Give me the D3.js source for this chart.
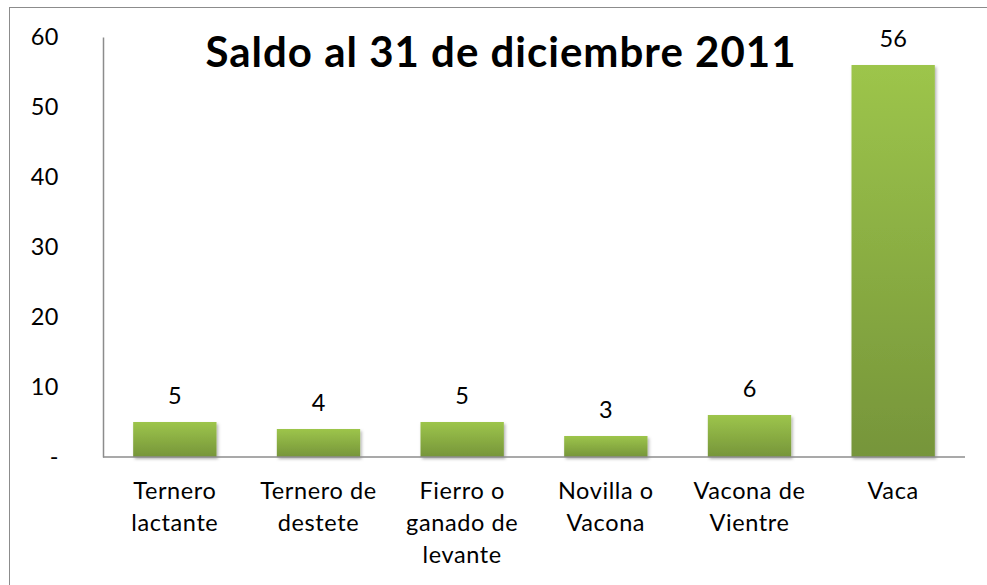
<!DOCTYPE html>
<html>
<head>
<meta charset="utf-8">
<script src="https://cdn.jsdelivr.net/npm/d3@7"></script>
<style>
  body { margin: 0; background: #fff; }
  svg { display: block; font-family: Lato, "Open Sans", sans-serif; }
</style>
</head>
<body>
<svg id="chart" width="987" height="585"></svg>
<script>
// datos del gráfico
const categorias = [
  ["Ternero", "lactante"],
  ["Ternero de", "destete"],
  ["Fierro o", "ganado de", "levante"],
  ["Novilla o", "Vacona"],
  ["Vacona de", "Vientre"],
  ["Vaca"]
];
const valores = [5, 4, 5, 3, 6, 56];
const ticksY = [0, 10, 20, 30, 40, 50, 60];
const titulo = "Saldo al 31 de diciembre 2011";

const svg = d3.select("#chart");

// marco exterior (solo se ven los bordes izquierdo y superior)
svg.append("rect")
  .attr("x", 9.5).attr("y", 7.5)
  .attr("width", 1000).attr("height", 600)
  .attr("fill", "#fff")
  .attr("stroke", "#8c8c8c")
  .attr("stroke-width", 1);

const defs = svg.append("defs");
const grad = defs.append("linearGradient")
  .attr("id", "verde")
  .attr("x1", 0).attr("y1", 0).attr("x2", 0).attr("y2", 1);
grad.append("stop").attr("offset", "0%").attr("stop-color", "#9dc54b");
grad.append("stop").attr("offset", "100%").attr("stop-color", "#76953a");

const sombra = defs.append("filter").attr("id", "sombra")
  .attr("x", "-10%").attr("y", "-10%").attr("width", "130%").attr("height", "130%");
sombra.append("feDropShadow")
  .attr("dx", 1.5).attr("dy", 2).attr("stdDeviation", 1.8)
  .attr("flood-color", "#000").attr("flood-opacity", 0.3);

const mIzq = 103, mDer = 965, mSup = 37, mInf = 457;
const tamTexto = 23.5;

const x = d3.scaleBand()
  .domain(d3.range(valores.length))
  .range([mIzq, mDer])
  .paddingInner(0.42)
  .paddingOuter(0.21);

const y = d3.scaleLinear()
  .domain([0, 60])
  .range([mInf, mSup]);

// barras
svg.append("g")
  .selectAll("rect")
  .data(valores)
  .join("rect")
  .attr("x", (d, i) => x(i))
  .attr("y", d => y(d))
  .attr("width", x.bandwidth())
  .attr("height", d => y(0) - y(d))
  .attr("fill", "url(#verde)")
  .attr("filter", "url(#sombra)");

// eje Y
const ejeY = d3.axisLeft(y)
  .tickValues(ticksY)
  .tickSize(0)
  .tickPadding(0)
  .tickFormat(d => d === 0 ? "-" : d);

const gY = svg.append("g")
  .attr("transform", `translate(${mIzq},0)`)
  .call(ejeY);
gY.select(".domain").attr("stroke", "#8c8c8c").attr("stroke-width", 1.5);
gY.selectAll("text")
  .attr("x", -44)
  .attr("font-size", tamTexto)
  .attr("letter-spacing", 0.5)
  .attr("fill", "#000")
  .attr("font-family", "Lato, sans-serif");

// eje X
svg.append("line")
  .attr("x1", mIzq).attr("x2", mDer)
  .attr("y1", mInf).attr("y2", mInf)
  .attr("stroke", "#8c8c8c")
  .attr("stroke-width", 1.5);

// etiquetas de categorías
const etiquetas = svg.append("g")
  .selectAll("text")
  .data(categorias)
  .join("text")
  .attr("text-anchor", "middle")
  .attr("font-size", tamTexto)
  .attr("letter-spacing", 0.6)
  .attr("fill", "#000")
  .attr("y", 499);
etiquetas.selectAll("tspan")
  .data((d, i) => d.map(l => ({ l, i })))
  .join("tspan")
  .attr("x", d => x(d.i) + x.bandwidth() / 2)
  .attr("dy", (d, j) => j === 0 ? 0 : 32)
  .text(d => d.l);

// valores
svg.append("g")
  .selectAll("text")
  .data(valores)
  .join("text")
  .attr("x", (d, i) => x(i) + x.bandwidth() / 2)
  .attr("y", d => y(d) - 18)
  .attr("text-anchor", "middle")
  .attr("font-size", tamTexto)
  .attr("fill", "#000")
  .text(d => d);

// título
svg.append("text")
  .attr("x", 501)
  .attr("y", 67)
  .attr("text-anchor", "middle")
  .attr("font-size", 42)
  .attr("letter-spacing", 1)
  .attr("font-weight", "bold")
  .attr("fill", "#000")
  .text(titulo);
</script>
</body>
</html>
